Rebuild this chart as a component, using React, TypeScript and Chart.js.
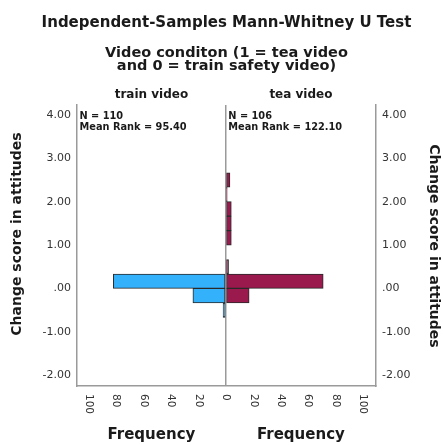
import React, { useEffect, useRef } from 'react';
import { Chart, registerables } from 'chart.js';
Chart.register(...registerables);

// Bin centres of the change score (bin width = 1/3)
const binCenters = [-0.5, -1 / 6, 1 / 6, 0.5, 7 / 6, 1.5, 11 / 6, 13 / 6, 2.5];
// Frequencies per bin
const trainFreq = [2, 24, 82, 0, 0, 0, 0, 0, 0];
const teaFreq = [0, 17, 71, 2, 4, 4, 4, 1, 3];

const yTickValues = [-2, -1, 0, 1, 2, 3, 4];
const xTickValues = [-100, -80, -60, -40, -20, 0, 20, 40, 60, 80, 100];

const titleText = 'Independent-Samples Mann-Whitney U Test';
const subtitleLines = ['Video conditon (1 = tea video', 'and 0 = train safety video)'];
const groupNames = ['train video', 'tea video'];
const groupN = ['N = 110', 'N = 106'];
const groupMeanRank = ['Mean Rank = 95.40', 'Mean Rank = 122.10'];
const xTitle = 'Frequency';
const yTitle = 'Change score in attitudes';

const FONT = '"DejaVu Sans", "Noto Sans", sans-serif';

const textPlugin = {
  id: 'spssTexts',
  afterDraw(chart: any) {
    const { ctx, chartArea, scales } = chart;
    const xs = scales.x;
    const zero = xs.getPixelForValue(0);
    const leftC = (chartArea.left + zero) / 2;
    const rightC = (zero + chartArea.right) / 2;
    const midC = (chartArea.left + chartArea.right) / 2;
    ctx.save();
    ctx.fillStyle = '#1a1a1a';
    ctx.textAlign = 'center';
    ctx.textBaseline = 'alphabetic';
    ctx.font = `bold 15px ${FONT}`;
    ctx.fillText(titleText, midC, 27);
    ctx.font = `bold 14.5px ${FONT}`;
    ctx.fillText(subtitleLines[0], midC, 57);
    ctx.fillText(subtitleLines[1], midC, 70);
    ctx.font = `bold 12px ${FONT}`;
    ctx.fillText(groupNames[0], leftC, 98);
    ctx.fillText(groupNames[1], rightC, 98);

    ctx.textAlign = 'left';
    ctx.font = `bold 9.8px ${FONT}`;
    ctx.fillText(groupN[0], chartArea.left + 2.5, 118.5);
    ctx.fillText(groupMeanRank[0], chartArea.left + 2.5, 129.5);
    ctx.fillText(groupN[1], zero + 2.5, 118.5);
    ctx.fillText(groupMeanRank[1], zero + 2.5, 129.5);

    // x tick labels, rotated clockwise
    ctx.fillStyle = '#333';
    ctx.font = `10.5px ${FONT}`;
    ctx.textBaseline = 'middle';
    for (const v of xTickValues) {
      const px = xs.getPixelForValue(v);
      ctx.save();
      ctx.translate(px, chartArea.bottom + 8);
      ctx.rotate(Math.PI / 2);
      ctx.fillText(String(Math.abs(v)), 0, 0);
      ctx.restore();
    }

    // x titles
    ctx.fillStyle = '#1a1a1a';
    ctx.textAlign = 'center';
    ctx.textBaseline = 'alphabetic';
    ctx.font = `bold 15px ${FONT}`;
    ctx.fillText(xTitle, leftC, 439);
    ctx.fillText(xTitle, rightC, 439);

    // y titles
    ctx.font = `bold 14px ${FONT}`;
    ctx.textBaseline = 'middle';
    ctx.save();
    ctx.translate(17, 234);
    ctx.rotate(-Math.PI / 2);
    ctx.fillText(yTitle, 0, 0);
    ctx.restore();
    ctx.save();
    ctx.translate(434, 246);
    ctx.rotate(Math.PI / 2);
    ctx.fillText(yTitle, 0, 0);
    ctx.restore();
    ctx.restore();
  },
};

const Y_MIN = -2.25;
const Y_MAX = 4.23;

export default function App() {
  const ref = useRef<HTMLCanvasElement>(null);
  useEffect(() => {
    if (!ref.current) return;
    const trainData = binCenters
      .map((y, i) => ({ x: -trainFreq[i], y }))
      .filter((d) => d.x !== 0);
    const teaData = binCenters
      .map((y, i) => ({ x: teaFreq[i], y }))
      .filter((d) => d.x !== 0);
    const yTickFmt = (v: any) => (Number(v) === 0 ? '.00' : Number(v).toFixed(2));
    const sideAxis = (position: string, width: number) => ({
      type: 'linear',
      position,
      min: Y_MIN,
      max: Y_MAX,
      offset: false,
      afterBuildTicks: (s: any) => {
        s.ticks = yTickValues.map((value) => ({ value }));
      },
      afterFit: (s: any) => {
        s.width = width;
      },
      ticks: {
        callback: yTickFmt,
        color: '#333',
        font: { family: FONT, size: 11 },
        padding: 6,
      },
      grid: { display: false, drawTicks: false, offset: false },
      border: { display: true, color: '#9a9a9a', width: 1.5 },
    });
    const chart = new Chart(ref.current, {
      type: 'bar',
      data: {
        datasets: [
          {
            label: groupNames[0],
            data: trainData as any,
            backgroundColor: '#33b2fb',
            borderColor: '#2a2a2a',
            borderWidth: 1,
            borderSkipped: false,
            grouped: false,
            barPercentage: 1,
            categoryPercentage: 1,
            yAxisID: 'y',
            xAxisID: 'x',
          } as any,
          {
            label: groupNames[1],
            data: teaData as any,
            backgroundColor: '#9b1a4e',
            borderColor: '#2a2a2a',
            borderWidth: 1,
            borderSkipped: false,
            grouped: false,
            barPercentage: 1,
            categoryPercentage: 1,
            yAxisID: 'y',
            xAxisID: 'x',
          } as any,
        ],
      },
      options: {
        indexAxis: 'y',
        responsive: true,
        maintainAspectRatio: false,
        animation: false,
        layout: { padding: { top: 105, left: 0, right: 0, bottom: 0 } },
        plugins: {
          legend: { display: false },
          title: { display: false },
          tooltip: { enabled: false },
        },
        scales: {
          y: {
            type: 'linear',
            display: false,
            offset: false,
            min: Y_MIN,
            max: Y_MAX,
            afterBuildTicks: (s: any) => {
              s.ticks = [];
            },
          },
          yl: sideAxis('left', 77),
          yr: sideAxis('right', 67),
          x: {
            type: 'linear',
            position: 'bottom',
            min: -108.5,
            max: 109.5,
            offset: false,
            afterBuildTicks: (s: any) => {
              s.ticks = xTickValues.map((value) => ({ value }));
            },
            afterFit: (s: any) => {
              s.height = 59;
            },
            ticks: { display: false },
            grid: {
              display: true,
              drawTicks: false,
              offset: false,
              lineWidth: 1.5,
              color: (c: any) => (c.tick && c.tick.value === 0 ? '#9a9a9a' : 'rgba(0,0,0,0)'),
            },
            border: { display: true, color: '#9a9a9a', width: 1.5 },
          },
        },
      } as any,
      plugins: [textPlugin],
    });
    return () => chart.destroy();
  }, []);
  return (
    <div style={{ position: 'fixed', left: 0, top: 0, width: 443, height: 445, background: '#fff' }}>
      <canvas ref={ref} />
    </div>
  );
}
